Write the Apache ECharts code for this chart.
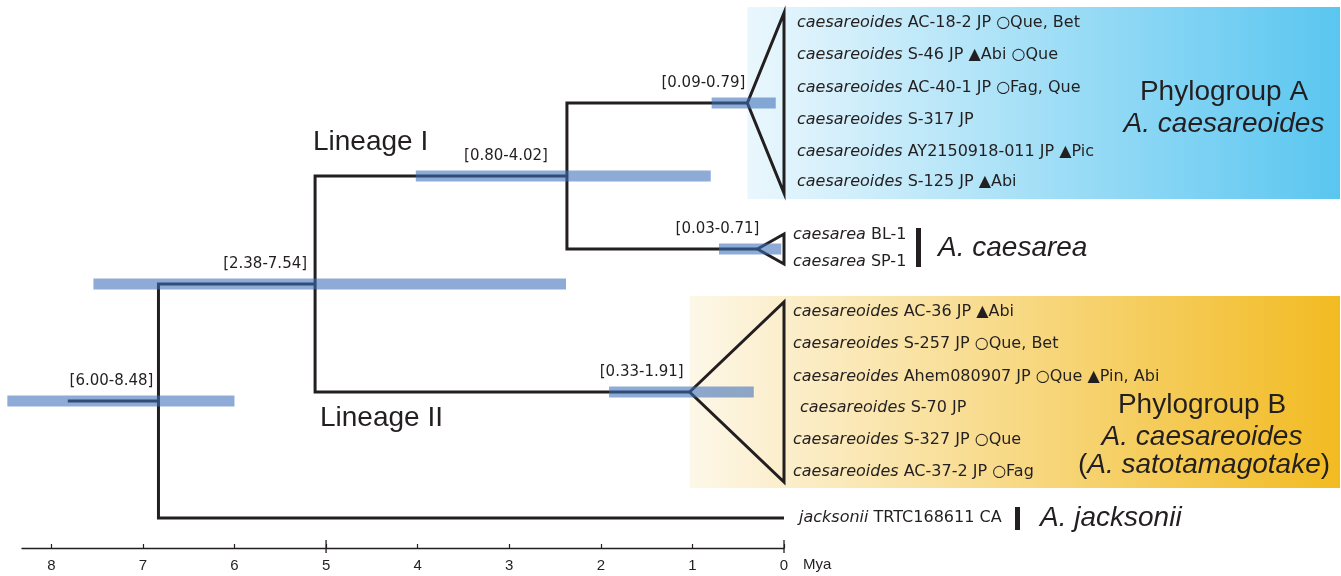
<!DOCTYPE html>
<html>
<head>
<meta charset="utf-8">
<title>Divergence times</title>
<script src="https://cdn.jsdelivr.net/npm/echarts@6/dist/echarts.min.js"></script>
<style>
html, body { margin: 0; padding: 0; background: #fff; }
#tree { width: 1341px; height: 576px; }
</style>
</head>
<body>
<div id="tree"></div>
<script>
// internal nodes, ages in Mya
var nodeIds    = ['root', 'n1', 'lin1', 'grpA', 'caes', 'grpB'];
var nodeParent = [null, 'root', 'n1', 'lin1', 'lin1', 'n1'];
var nodeAges   = [6.83, 5.12, 2.37, 0.40, 0.29, 1.03];
var ciLow      = [6.00, 2.38, 0.80, 0.09, 0.03, 0.33];
var ciHigh     = [8.48, 7.54, 4.02, 0.79, 0.71, 1.91];
var rootStemAge = 7.82;

// collapsed clades (triangles), span in tree rows
var cladeNodes  = ['grpA', 'caes', 'grpB'];
var cladeTop    = [13, 234, 302];
var cladeBottom = [193, 264, 482];

// tip labels and their rows
var tipsA = ['AC-18-2 JP \u25CBQue, Bet', 'S-46 JP \u25B2Abi \u25CBQue', 'AC-40-1 JP \u25CBFag, Que',
             'S-317 JP', 'AY2150918-011 JP \u25B2Pic', 'S-125 JP \u25B2Abi'];
var rowsA = [23, 55, 88, 120, 152, 182];
var tipsCaes = ['BL-1', 'SP-1'];
var rowsCaes = [235, 262];
var tipsB = ['AC-36 JP \u25B2Abi', 'S-257 JP \u25CBQue, Bet', 'Ahem080907 JP \u25CBQue \u25B2Pin, Abi',
             'S-70 JP', 'S-327 JP \u25CBQue', 'AC-37-2 JP \u25CBFag'];
var rowsB = [312, 344, 377, 408, 440, 472];
var outgroupTip = 'TRTC168611 CA';
var outgroupRow = 518;

var ageTicks = [0, 1, 2, 3, 4, 5, 6, 7, 8];
var majorTicks = [5, 0];

var INK = '#231f20';
var SMALL = '16px "DejaVu Sans"';
var SMALL_I = 'italic 16px "DejaVu Sans"';
var CI_FONT = '15px "DejaVu Sans"';
var BIG = '28px "Liberation Sans"';
var BIG_I = 'italic 28px "Liberation Sans"';

// children of each node
var kids = {};
nodeIds.forEach(function (id, i) {
  var p = nodeParent[i];
  if (p) (kids[p] = kids[p] || []).push({ id: id, age: nodeAges[i] });
});
kids.root.push({ id: 'out', age: 0 });

var yCache = { out: outgroupRow };
function yOf(id) {
  if (yCache[id] != null) return yCache[id];
  var c = cladeNodes.indexOf(id);
  if (c >= 0) return (yCache[id] = (cladeTop[c] + cladeBottom[c]) / 2);
  var ys = kids[id].map(function (k) { return yOf(k.id); });
  return (yCache[id] = (Math.min.apply(null, ys) + Math.max.apply(null, ys)) / 2);
}

// tips list: [epithet, text, row, gap]
var tips = [];
tipsA.forEach(function (t, i) { tips.push(['caesareoides', t, rowsA[i], 13]); });
tipsCaes.forEach(function (t, i) { tips.push(['caesarea', t, rowsCaes[i], 9]); });
tipsB.forEach(function (t, i) { tips.push(['caesareoides', t, rowsB[i], 9]); });
tips.push(['jacksonii', outgroupTip, outgroupRow, 15]);

var tipIndent = { 'S-70 JP': 7 };
var ciShift = { root: -5, n1: -8, lin1: -19, grpA: -2, caes: 2, grpB: -6 };
var lineStyle = { stroke: INK, lineWidth: 3, fill: 'none', lineJoin: 'miter' };

var boxFill = {
  grpA: ['#eaf7fd', '#5ac6f0'],
  grpB: ['#fdf7e8', '#f2bb22']
};

var chart = echarts.init(document.getElementById('tree'));
chart.setOption({
  animation: false,
  grid: { left: 22, right: 557, top: 0, bottom: 28 },
  xAxis: {
    type: 'value', inverse: true, min: 0, max: 8.32, interval: 1, position: 'bottom',
    axisLine: { onZero: false, lineStyle: { color: INK, width: 1.3 } },
    axisTick: { inside: true, length: 4, customValues: ageTicks, lineStyle: { color: INK, width: 1.2 } },
    axisLabel: { customValues: ageTicks, margin: 10, color: INK, fontSize: 15, fontFamily: 'Liberation Sans' },
    splitLine: { show: false }
  },
  yAxis: { type: 'value', inverse: true, min: 0, max: 548, show: false },
  series: [
    {
      // clade boxes
      type: 'custom', clip: false, z: 1,
      data: ['grpA', 'grpB'].map(function (id) { return [nodeIds.indexOf(id)]; }),
      renderItem: function (params, api) {
        var id = nodeIds[api.value(0)];
        var c = cladeNodes.indexOf(id);
        var tl = api.coord([nodeAges[nodeIds.indexOf(id)], cladeTop[c] - 6]);
        var br = api.coord([0, cladeBottom[c] + 6]);
        var cols = boxFill[id];
        return {
          type: 'rect',
          shape: { x: tl[0], y: tl[1], width: api.getWidth() - 1 - tl[0], height: br[1] - tl[1] },
          style: { fill: { type: 'linear', x: 0, y: 0, x2: 1, y2: 0,
            colorStops: [{ offset: 0, color: cols[0] }, { offset: 1, color: cols[1] }] } }
        };
      }
    },
    {
      // branches and triangles
      type: 'custom', clip: false, z: 3,
      data: nodeIds.map(function (id, i) { return [i]; }),
      renderItem: function (params, api) {
        var i = api.value(0), id = nodeIds[i];
        var p = api.coord([nodeAges[i], yOf(id)]);
        var shapes = [];
        (kids[id] || []).forEach(function (k) {
          var c = api.coord([k.age, yOf(k.id)]);
          shapes.push({ type: 'polyline', shape: { points: [[p[0], p[1]], [p[0], c[1]], [c[0], c[1]]] }, style: lineStyle });
        });
        var ci = cladeNodes.indexOf(id);
        if (ci >= 0) {
          var t = api.coord([0, cladeTop[ci]]), b = api.coord([0, cladeBottom[ci]]);
          shapes.push({ type: 'polygon', shape: { points: [p, t, b] }, style: lineStyle });
        }
        if (id === 'root') {
          var s = api.coord([rootStemAge, yOf(id)]);
          shapes.push({ type: 'line', shape: { x1: s[0], y1: s[1], x2: p[0], y2: p[1] }, style: lineStyle });
        }
        return { type: 'group', children: shapes };
      }
    },
    {
      // 95% HPD bars and labels
      type: 'custom', clip: false, z: 4,
      data: nodeIds.map(function (id, i) { return [i]; }),
      renderItem: function (params, api) {
        var i = api.value(0), id = nodeIds[i], y = yOf(id);
        var lo = api.coord([ciLow[i], y]), hi = api.coord([ciHigh[i], y]);
        var n = api.coord([nodeAges[i], y]);
        return { type: 'group', children: [
          { type: 'rect', shape: { x: hi[0], y: lo[1] - 5.5, width: lo[0] - hi[0], height: 11 },
            style: { fill: 'rgba(59,111,184,0.58)' } },
          { type: 'text', x: n[0] + ciShift[id], y: n[1] - 20,
            style: { text: '[' + ciLow[i].toFixed(2) + '-' + ciHigh[i].toFixed(2) + ']',
              font: CI_FONT, fill: INK, align: 'right', verticalAlign: 'middle' } }
        ] };
      }
    },
    {
      // tip labels
      type: 'custom', clip: false, z: 5,
      data: tips.map(function (t, i) { return [0, t[2], i]; }),
      renderItem: function (params, api) {
        var t = tips[api.value(2)];
        var c = api.coord([0, t[2]]);
        return {
          type: 'text', x: c[0] + t[3] + (tipIndent[t[1]] || 0), y: c[1],
          style: { text: '{i|' + t[0] + '} ' + t[1], font: SMALL, fill: INK,
            align: 'left', verticalAlign: 'middle',
            rich: { i: { font: SMALL_I, fill: INK } } }
        };
      }
    },
    {
      // longer ticks on the time axis
      type: 'custom', clip: false, z: 5,
      data: majorTicks.map(function (a) { return [a]; }),
      renderItem: function (params, api) {
        var c = api.coord([api.value(0), 548]);
        return { type: 'line', shape: { x1: c[0], y1: c[1] - 8, x2: c[0], y2: c[1] + 5 },
          style: { stroke: INK, lineWidth: 1.3 } };
      }
    }
  ],
  graphic: [
    { type: 'text', x: 803, y: 565, style: { text: 'Mya', font: '15px "Liberation Sans"', fill: INK, verticalAlign: 'middle' } },
    { type: 'text', x: 313, y: 142, style: { text: 'Lineage I', font: BIG, fill: INK, verticalAlign: 'middle' } },
    { type: 'text', x: 320, y: 418, style: { text: 'Lineage II', font: BIG, fill: INK, verticalAlign: 'middle' } },
    { type: 'text', x: 1224, y: 92, z: 10, style: { text: 'Phylogroup A', font: BIG, fill: INK, align: 'center', verticalAlign: 'middle' } },
    { type: 'text', x: 1224, y: 124, z: 10, style: { text: 'A. caesareoides', font: BIG_I, fill: INK, align: 'center', verticalAlign: 'middle' } },
    { type: 'text', x: 1202, y: 405, z: 10, style: { text: 'Phylogroup B', font: BIG, fill: INK, align: 'center', verticalAlign: 'middle' } },
    { type: 'text', x: 1202, y: 437, z: 10, style: { text: 'A. caesareoides', font: BIG_I, fill: INK, align: 'center', verticalAlign: 'middle' } },
    { type: 'text', x: 1204, y: 465, z: 10, style: { text: '({i|A. satotamagotake})', font: BIG, fill: INK, align: 'center', verticalAlign: 'middle',
      rich: { i: { font: BIG_I, fill: INK } } } },
    { type: 'rect', shape: { x: 916, y: 228, width: 5, height: 39 }, style: { fill: INK } },
    { type: 'text', x: 938, y: 248, style: { text: 'A. caesarea', font: BIG_I, fill: INK, verticalAlign: 'middle' } },
    { type: 'rect', shape: { x: 1015, y: 507, width: 5, height: 23 }, style: { fill: INK } },
    { type: 'text', x: 1040, y: 518, style: { text: 'A. jacksonii', font: BIG_I, fill: INK, verticalAlign: 'middle' } }
  ]
});
</script>
</body>
</html>
